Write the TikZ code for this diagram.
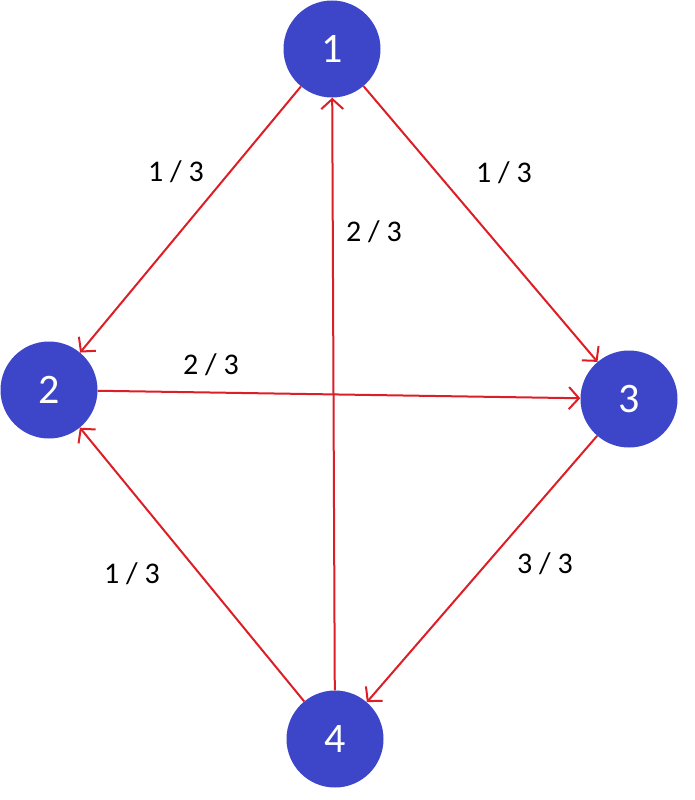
\documentclass[tikz,border=0pt]{standalone}
\usepackage{fontspec}
\setmainfont{Carlito}
\usetikzlibrary{arrows.meta}
\definecolor{nc}{RGB}{61,70,201}
\definecolor{ec}{RGB}{220,30,38}
\tikzset{nd/.style={circle,fill=nc,text=white,inner sep=0pt,minimum size=97pt,font=\fontsize{42}{46}\selectfont},
 arr/.style={draw=ec,line width=2pt,-{Straight Barb[length=10pt,width=22pt,line width=2pt]}},
 lab/.style={inner sep=0pt,font=\fontsize{30}{33}\selectfont}}
\begin{document}
\begin{tikzpicture}[x=1pt,y=-1pt]
\useasboundingbox (0,0) rectangle (695,800);
\node[nd] (n1) at (332,49) {1};
\node[nd] (n2) at (49,390) {2};
\node[nd] (n3) at (629,399) {3};
\node[nd] (n4) at (335,739) {4};
\foreach \u/\v in {n1/n2,n1/n3,n4/n1,n2/n3,n3/n4,n4/n2}{\draw[arr] (\u)--(\v);}
\node[lab] (l12) at (176,172) {1 / 3};
\node[lab] (l13) at (504,173) {1 / 3};
\node[lab] (l41) at (374,232) {2 / 3};
\node[lab] (l23) at (211,365) {2 / 3};
\node[lab] (l42) at (132,574) {1 / 3};
\node[lab] (l34) at (545,564) {3 / 3};
\end{tikzpicture}
\end{document}
